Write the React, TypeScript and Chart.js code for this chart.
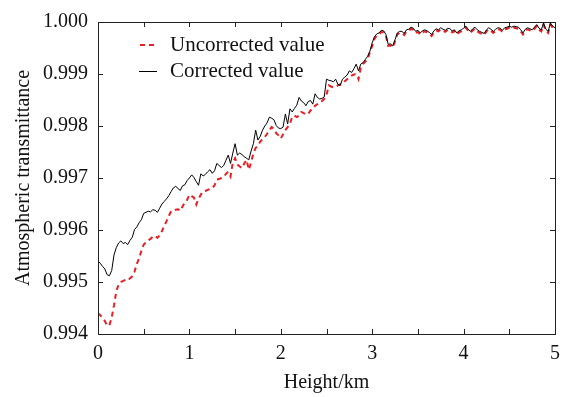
import React, { useEffect, useRef } from "react";
import { Chart, registerables } from "chart.js";

Chart.register(...registerables);

// Sample heights, every 25 m from 0 to 5 km
const HEIGHTS_KM: number[] = Array.from({ length: 201 }, (_, i) => +(i * 0.025).toFixed(3));

const CORRECTED: number[] = [
  0.99540, 0.99536, 0.99530, 0.99525, 0.99514, 0.99512, 0.99522, 0.99552, 0.99566, 0.99575,
  0.99579, 0.99574, 0.99576, 0.99572, 0.99580, 0.99586, 0.99601, 0.99606, 0.99614, 0.99620,
  0.99632, 0.99634, 0.99636, 0.99635, 0.99639, 0.99638, 0.99634, 0.99642, 0.99650, 0.99655,
  0.99660, 0.99666, 0.99674, 0.99681, 0.99684, 0.99680, 0.99676, 0.99685, 0.99687, 0.99695,
  0.99700, 0.99706, 0.99701, 0.99693, 0.99686, 0.99708, 0.99704, 0.99707, 0.99712, 0.99716,
  0.99709, 0.99714, 0.99728, 0.99724, 0.99720, 0.99724, 0.99734, 0.99744, 0.99728, 0.99748,
  0.99766, 0.99744, 0.99748, 0.99745, 0.99741, 0.99738, 0.99735, 0.99752, 0.99766, 0.99792,
  0.99773, 0.99780, 0.99792, 0.99800, 0.99806, 0.99817, 0.99815, 0.99812, 0.99801, 0.99796,
  0.99795, 0.99798, 0.99823, 0.99804, 0.99833, 0.99827, 0.99834, 0.99840, 0.99855, 0.99848,
  0.99845, 0.99839, 0.99847, 0.99849, 0.99842, 0.99862, 0.99855, 0.99852, 0.99853, 0.99856,
  0.99890, 0.99888, 0.99887, 0.99885, 0.99890, 0.99880, 0.99878, 0.99890, 0.99894, 0.99898,
  0.99906, 0.99903, 0.99910, 0.99919, 0.99906, 0.99919, 0.99922, 0.99928, 0.99934, 0.99944,
  0.99960, 0.99972, 0.99977, 0.99979, 0.99984, 0.99983, 0.99976, 0.99957, 0.99958, 0.99954,
  0.99966, 0.99979, 0.99982, 0.99982, 0.99978, 0.99985, 0.99986, 0.99990, 0.99988, 0.99982,
  0.99984, 0.99979, 0.99983, 0.99985, 0.99983, 0.99980, 0.99976, 0.99983, 0.99987, 0.99985,
  0.99989, 0.99986, 0.99984, 0.99988, 0.99987, 0.99983, 0.99985, 0.99979, 0.99983, 0.99985,
  0.99988, 0.99992, 0.99986, 0.99982, 0.99987, 0.99990, 0.99985, 0.99982, 0.99980, 0.99978,
  0.99985, 0.99989, 0.99986, 0.99982, 0.99986, 0.99989, 0.99988, 0.99984, 0.99989, 0.99990,
  0.99992, 0.99990, 0.99992, 0.99991, 0.99990, 0.99985, 0.99979, 0.99986, 0.99989, 0.99987,
  0.99985, 0.99990, 0.99995, 0.99988, 0.99985, 0.99998, 0.99986, 0.99982, 0.99998, 0.99992,
  0.99989,
];

const UNCORRECTED: number[] = [
  0.99440, 0.99436, 0.99431, 0.99425, 0.99416, 0.99417, 0.99432, 0.99455, 0.99482, 0.99495,
  0.99500, 0.99502, 0.99504, 0.99503, 0.99507, 0.99511, 0.99520, 0.99535, 0.99546, 0.99560,
  0.99572, 0.99576, 0.99580, 0.99583, 0.99587, 0.99589, 0.99585, 0.99590, 0.99598, 0.99608,
  0.99617, 0.99627, 0.99636, 0.99638, 0.99639, 0.99640, 0.99637, 0.99645, 0.99653, 0.99658,
  0.99668, 0.99665, 0.99662, 0.99649, 0.99660, 0.99668, 0.99674, 0.99675, 0.99677, 0.99679,
  0.99680, 0.99686, 0.99697, 0.99698, 0.99700, 0.99702, 0.99708, 0.99712, 0.99703, 0.99730,
  0.99738, 0.99726, 0.99722, 0.99719, 0.99728, 0.99735, 0.99716, 0.99730, 0.99747, 0.99758,
  0.99762, 0.99770, 0.99775, 0.99779, 0.99785, 0.99792, 0.99798, 0.99794, 0.99786, 0.99782,
  0.99776, 0.99784, 0.99792, 0.99798, 0.99804, 0.99818, 0.99820, 0.99817, 0.99820, 0.99827,
  0.99825, 0.99822, 0.99823, 0.99830, 0.99832, 0.99839, 0.99842, 0.99846, 0.99848, 0.99852,
  0.99860, 0.99878, 0.99876, 0.99874, 0.99876, 0.99878, 0.99880, 0.99881, 0.99886, 0.99890,
  0.99894, 0.99897, 0.99899, 0.99900, 0.99890, 0.99912, 0.99919, 0.99924, 0.99928, 0.99942,
  0.99954, 0.99968, 0.99974, 0.99976, 0.99981, 0.99980, 0.99973, 0.99954, 0.99955, 0.99951,
  0.99963, 0.99976, 0.99979, 0.99979, 0.99975, 0.99982, 0.99983, 0.99987, 0.99985, 0.99979,
  0.99981, 0.99976, 0.99980, 0.99982, 0.99980, 0.99977, 0.99973, 0.99980, 0.99984, 0.99982,
  0.99986, 0.99983, 0.99981, 0.99985, 0.99984, 0.99980, 0.99982, 0.99976, 0.99980, 0.99982,
  0.99985, 0.99989, 0.99983, 0.99979, 0.99984, 0.99987, 0.99982, 0.99979, 0.99977, 0.99975,
  0.99982, 0.99986, 0.99983, 0.99979, 0.99983, 0.99986, 0.99985, 0.99981, 0.99986, 0.99987,
  0.99989, 0.99987, 0.99989, 0.99988, 0.99987, 0.99982, 0.99976, 0.99983, 0.99986, 0.99984,
  0.99982, 0.99987, 0.99992, 0.99985, 0.99982, 0.99995, 0.99983, 0.99979, 0.99995, 0.99989,
  0.99986,
];

const SERIES_LABELS = ["Uncorrected value", "Corrected value"];
const X_TICKS = [0, 1, 2, 3, 4, 5];
const X_MINOR_STEP = 0.5;
const Y_MIN = 0.994;
const Y_MAX = 1.0;
const Y_STEP = 0.001;

const FONT = "'Liberation Serif', 'Times New Roman', serif";
const RED = "rgb(235, 30, 35)";
const DASH = [5, 4];

// Box frame, inward tick marks and the in-plot legend
const framePlugin = {
  id: "frame",
  afterDraw(chart: any) {
    const { ctx, chartArea } = chart;
    const { left, right, top, bottom } = chartArea;
    const xs = chart.scales.x;
    const ys = chart.scales.y;
    const tick = 5;
    ctx.save();
    ctx.strokeStyle = "#222";
    ctx.lineWidth = 1;
    ctx.strokeRect(Math.round(left) + 0.5, Math.round(top) + 0.5, Math.round(right - left), Math.round(bottom - top));
    ctx.beginPath();
    for (let v = X_TICKS[0]; v <= X_TICKS[X_TICKS.length - 1] + 1e-9; v += X_MINOR_STEP) {
      const px = Math.round(xs.getPixelForValue(v)) + 0.5;
      ctx.moveTo(px, bottom);
      ctx.lineTo(px, bottom - tick);
      ctx.moveTo(px, top);
      ctx.lineTo(px, top + tick);
    }
    for (let v = Y_MIN; v <= Y_MAX + 1e-9; v += Y_STEP) {
      const py = Math.round(ys.getPixelForValue(v)) + 0.5;
      ctx.moveTo(left, py);
      ctx.lineTo(left + tick, py);
      ctx.moveTo(right, py);
      ctx.lineTo(right - tick, py);
    }
    ctx.stroke();

    // legend
    const rows = [top + 23, top + 49];
    const tx = left + 72;
    ctx.font = `21px ${FONT}`;
    ctx.textBaseline = "middle";
    ctx.fillStyle = "#111";
    ctx.strokeStyle = RED;
    ctx.lineWidth = 2;
    ctx.setLineDash(DASH);
    ctx.beginPath();
    ctx.moveTo(left + 42, rows[0]);
    ctx.lineTo(left + 57, rows[0]);
    ctx.stroke();
    ctx.setLineDash([]);
    ctx.strokeStyle = "#000";
    ctx.lineWidth = 1;
    ctx.beginPath();
    ctx.moveTo(left + 41, rows[1] + 0.5);
    ctx.lineTo(left + 59, rows[1] + 0.5);
    ctx.stroke();
    ctx.fillText(SERIES_LABELS[0], tx, rows[0]);
    ctx.fillText(SERIES_LABELS[1], tx, rows[1]);
    ctx.restore();
  },
};

export default function App() {
  const ref = useRef<HTMLCanvasElement | null>(null);

  useEffect(() => {
    document.body.style.margin = "0";
    const canvas = ref.current;
    if (!canvas) return;
    const chart = new Chart(canvas, {
      type: "line",
      data: {
        datasets: [
          {
            label: SERIES_LABELS[1],
            data: HEIGHTS_KM.map((h, i) => ({ x: h, y: CORRECTED[i] })),
            borderColor: "#000",
            borderWidth: 1,
            pointRadius: 0,
            tension: 0,
            order: 0,
          },
          {
            label: SERIES_LABELS[0],
            data: HEIGHTS_KM.map((h, i) => ({ x: h, y: UNCORRECTED[i] })),
            borderColor: RED,
            borderWidth: 2,
            borderDash: DASH,
            pointRadius: 0,
            tension: 0,
            order: 1,
          },
        ],
      },
      options: {
        responsive: false,
        animation: false,
        layout: { padding: { top: 19, right: 12, left: 0, bottom: 0 } },
        plugins: { legend: { display: false }, tooltip: { enabled: false } },
        scales: {
          x: {
            type: "linear",
            min: 0,
            max: 5,
            afterBuildTicks: (s: any) => {
              s.ticks = X_TICKS.map((v) => ({ value: v }));
            },
            afterFit: (s: any) => {
              s.height = 63;
            },
            grid: { display: false, drawTicks: false },
            border: { display: false },
            ticks: {
              color: "#111",
              font: { family: FONT, size: 20 },
              padding: 8,
              maxRotation: 0,
              callback: (v: any) => String(v),
            },
            title: {
              display: true,
              text: "Height/km",
              color: "#111",
              font: { family: FONT, size: 20 },
              padding: { top: 0, bottom: 2 },
            },
          },
          y: {
            type: "linear",
            min: Y_MIN,
            max: Y_MAX,
            afterBuildTicks: (s: any) => {
              const t = [];
              for (let k = 0; k <= Math.round((Y_MAX - Y_MIN) / Y_STEP); k++) t.push({ value: Y_MIN + k * Y_STEP });
              s.ticks = t;
            },
            afterFit: (s: any) => {
              s.width = 98;
            },
            grid: { display: false, drawTicks: false },
            border: { display: false },
            ticks: {
              color: "#111",
              font: { family: FONT, size: 20 },
              padding: 10,
              callback: (v: any) => Number(v).toFixed(3),
            },
            title: {
              display: true,
              text: "Atmospheric transmittance",
              color: "#111",
              font: { family: FONT, size: 20 },
              padding: { top: 12, bottom: 0 },
            },
          },
        },
      },
      plugins: [framePlugin],
    });
    return () => chart.destroy();
  }, []);

  return (
    <div style={{ position: "relative", width: 568, height: 397, background: "#fff" }}>
      <canvas ref={ref} width={568} height={397} style={{ display: "block" }} />
    </div>
  );
}
